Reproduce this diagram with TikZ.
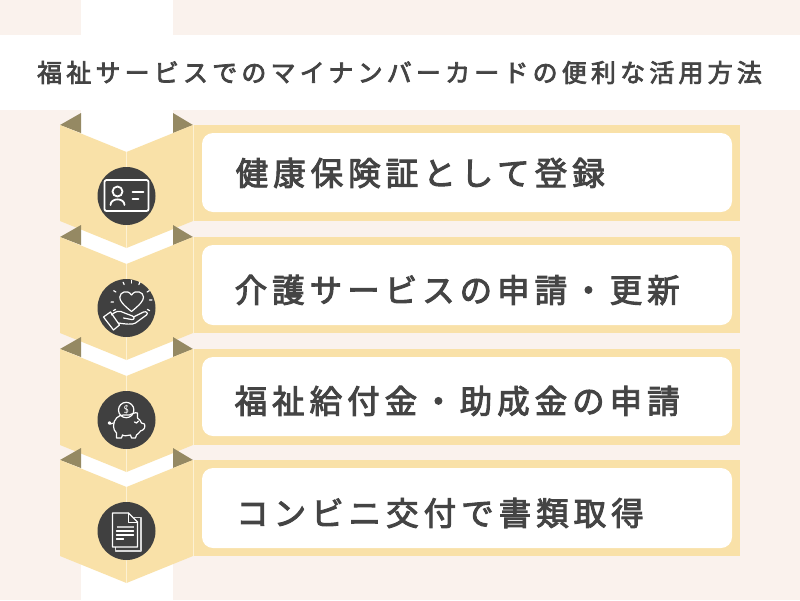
\documentclass[tikz,border=0pt]{standalone}
\usepackage{fontspec}
\usetikzlibrary{calc}
\newfontfamily\titlefont[LetterSpace=16.7,FakeBold=3]{Noto Sans CJK JP}
\newfontfamily\rowfont[LetterSpace=15.4,FakeBold=3]{Noto Sans CJK JP}
\definecolor{bgc}{HTML}{FAF2ED}
\definecolor{chev}{HTML}{F9E1A8}
\definecolor{foldc}{HTML}{958963}
\definecolor{dark}{HTML}{404040}
\definecolor{txt}{HTML}{444444}
\definecolor{crease}{HTML}{FDF1D3}
\tikzset{
  titletext/.style={anchor=west,inner sep=0pt,text=txt,font=\titlefont\fontsize{25pt}{30pt}\selectfont},
  rowtext/.style={anchor=west,inner sep=0pt,text=txt,font=\rowfont\fontsize{32.5pt}{38pt}\selectfont},
  iconline/.style={draw=white,line width=1.2pt,line cap=round,line join=round},
  iconthick/.style={draw=white,line width=1.8pt,line cap=round,line join=round},
  whitebox/.style={fill=white,rounded corners=11pt},
}
\newcommand{\chevrontri}[1]{%
  \fill[foldc] (60,#1) -- (81,#1-12) -- (81,#1+8) -- cycle;
  \fill[foldc] (193,#1) -- (173,#1-12) -- (173,#1+8) -- cycle;}
\newcommand{\chevronbody}[1]{%
  \fill[chev] (60,#1) -- (126.5,#1+27) -- (193,#1) -- (193,#1+96) -- (126.5,#1+123) -- (60,#1+96) -- cycle;
  \draw[crease,line width=0.7pt] (126.5,#1+27) -- (126.5,#1+123);
  \draw[crease,line width=0.7pt] (193.5,#1) -- (193.5,#1+96);
  \fill[chev] (194,#1) rectangle (740,#1+96);}
\begin{document}
\begin{tikzpicture}[x=1pt,y=-1pt]
\useasboundingbox (0,0) rectangle (800,600);
\fill[bgc] (0,0) rectangle (800,600);
\fill[white] (81,0) rectangle (173,600);
\fill[white] (0,35) rectangle (800,110);
\node[titletext] (title) at (37,72.5) {福祉サービスでのマイナンバーカードの便利な活用方法};
% folded corners, then chevrons
\chevrontri{125}\chevronbody{125}
\chevrontri{237}\chevronbody{237}
\chevrontri{349}\chevronbody{349}
\chevrontri{460}\chevronbody{460}
\fill[whitebox] (202,133) rectangle (732,212);
\fill[whitebox] (202,245) rectangle (732,325);
\fill[whitebox] (202,357) rectangle (732,436);
\fill[whitebox] (202,468) rectangle (732,548);
\node[rowtext] (r1) at (235.5,173) {健康保険証として登録};
\node[rowtext] (r2) at (234.5,290) {介護サービスの申請・更新};
\node[rowtext] (r3) at (234.5,401) {福祉給付金・助成金の申請};
\node[rowtext] (r4) at (236,513) {コンビニ交付で書類取得};
% ID card icon
\begin{scope}[shift={(126.5,196)}]
\fill[dark] (0,0) circle (29);
\draw[iconthick,rounded corners=2pt] (-22,-16) rectangle (22,15);
\draw[iconthick] (-9,-4.5) circle (5);
\draw[iconthick] (-16,9) .. controls (-16,1.5) and (-2,1.5) .. (-2,9);
\draw[iconthick] (6,-3.7) -- (17,-3.7);
\draw[iconthick] (6,2.7) -- (12,2.7);
\end{scope}
% heart in hand icon
\begin{scope}[shift={(126.5,308)}]
\fill[dark] (0,0) circle (29);
\draw[iconline] (5,3.5) .. controls (-3,-3) and (-7,-7) .. (-6.7,-11)
  .. controls (-6.5,-16) and (1,-19) .. (5,-13)
  .. controls (9,-19) and (17,-16) .. (17,-11)
  .. controls (17,-7) and (13,-3) .. (5,3.5);
\foreach \a in {-90,-66,-114,-30,-150,-3,177,28,152}
  \draw[iconline] ($(5,-7)+(\a:18)$) -- ($(5,-7)+(\a:20.5)$);
\draw[iconline] (-23,9) -- (-16,4) -- (-7,17) -- (-13,22) -- cycle;
\draw[iconline] (-15,7) .. controls (-11,3) and (-7,2) .. (-2,5)
  -- (6,8) .. controls (8.5,9) and (8,12) .. (5,11.5) -- (-3,10);
\draw[iconline] (7,9) -- (17,4) .. controls (20,3) and (22,5) .. (20,7)
  -- (9,15) .. controls (6,17) and (-2,16) .. (-8,15);
\end{scope}
% piggy bank icon
\begin{scope}[shift={(126.5,420)}]
\fill[dark] (0,0) circle (29);
\draw[iconline] (-0.3,-10) circle (7.7);
\node[inner sep=0pt,text=white,font=\fontsize{11pt}{11pt}\selectfont\sffamily] (dollar) at (-0.3,-10) {\$};
\draw[iconline] (-13,6) .. controls (-13,-1) and (-8,-5) .. (-3,-5)
  -- (3,-5) .. controls (5,-6) and (9,-8) .. (11,-7)
  -- (11,-2) .. controls (13,-1) and (14,1) .. (15,3)
  -- (18,4) .. controls (19,7) and (18,10) .. (14,11)
  .. controls (13,13) and (11,14) .. (10,15) -- (9,18) -- (5,18) -- (4,15)
  .. controls (1,16) and (-3,16) .. (-4,15) -- (-5,18) -- (-10,18) -- (-10,13)
  .. controls (-12,11) and (-13,9) .. (-13,6);
\draw[iconline] (-13,3) -- (-16,4);
\draw[iconline] (-17,3) circle (1.2);
\draw[iconline] (8,2) .. controls (9,3.5) and (11,3.5) .. (12,1);
\end{scope}
% document icon
\begin{scope}[shift={(126.5,531)}]
\fill[dark] (0,0) circle (29);
\draw[draw=white!80!dark,line width=1.3pt,line join=round] (7,-13.5) -- (14.5,-13.5) -- (14.5,20) -- (-11,20) -- (-11,16);
\draw[iconthick,line width=1.3pt] (-14,-18) -- (2,-18) -- (11,-9) -- (11,16) -- (-14,16) -- cycle;
\draw[iconline,line width=1pt] (2,-18) -- (2,-9) -- (11,-9);
\draw[draw=white!70!dark,line width=1.8pt] (-10,-4) -- (7,-4);
\draw[iconline] (-10,0) -- (7,0);
\draw[iconline] (-10,4) -- (7,4);
\draw[iconline] (-10,8) -- (-3,8);
\end{scope}
\end{tikzpicture}
\end{document}
